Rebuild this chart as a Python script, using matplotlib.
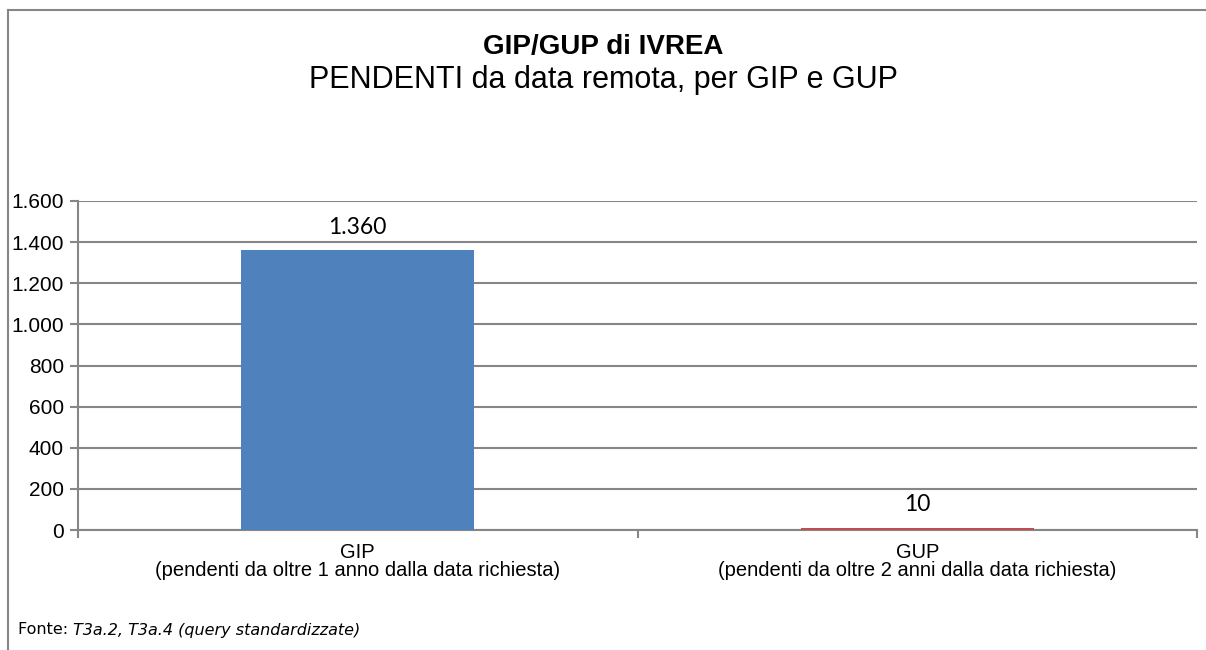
"""GIP/GUP di IVREA - pendenti da data remota."""

import matplotlib.pyplot as plt
from matplotlib.lines import Line2D

cat_names = ["GIP", "GUP"]
cat_notes = [
    "(pendenti da oltre 1 anno dalla data richiesta)",
    "(pendenti da oltre 2 anni dalla data richiesta)",
]
values = [1360, 10]
bar_colors = ["#4F81BD", "#C0504D"]
y_ticks = [0, 200, 400, 600, 800, 1000, 1200, 1400, 1600]

GRID = "#868686"
W, H = 1206, 650


def fmt_it(v):
    return f"{v:,.0f}".replace(",", ".")


plt.rcParams["font.family"] = ["Liberation Sans", "DejaVu Sans"]
fig = plt.figure(figsize=(W / 100, H / 100), dpi=100)

# outer frame (top and left edges only)
fig.add_artist(Line2D([8 / W, 1.0], [1 - 10 / H] * 2, color=GRID, lw=1.5,
                      transform=fig.transFigure))
fig.add_artist(Line2D([8 / W] * 2, [0, 1 - 10 / H], color=GRID, lw=1.5,
                      transform=fig.transFigure))

ax = fig.add_axes([78 / W, 1 - 530 / H, (1197 - 78) / W, (530 - 201) / H])
xs = list(range(len(values)))
bars = ax.bar(xs, values, width=0.416, color=bar_colors, zorder=3)
ax.set_xlim(-0.5, len(values) - 0.5)
ax.set_ylim(0, 1600)
ax.set_yticks(y_ticks)
ax.set_yticklabels([fmt_it(v) for v in y_ticks], fontsize=15)
ax.yaxis.grid(True, color=GRID, lw=1.5, zorder=0)

for spine in ["top", "right"]:
    ax.spines[spine].set_visible(False)
for spine in ["left", "bottom"]:
    ax.spines[spine].set_color(GRID)
    ax.spines[spine].set_linewidth(1.5)
ax.tick_params(axis="y", length=6, width=1.5, color=GRID, pad=4)

# category boundaries as ticks, labels placed under each bar
ax.set_xticks([-0.5, 0.5, 1.5])
ax.set_xticklabels([])
ax.tick_params(axis="x", length=6, width=1.5, color=GRID)
for x, name, note in zip(xs, cat_names, cat_notes):
    ax.annotate(name, (x, 0), xytext=(0, -22), textcoords="offset pixels",
                ha="center", va="center", fontsize=14.5)
    ax.annotate(note, (x, 0), xytext=(0, -40), textcoords="offset pixels",
                ha="center", va="center", fontsize=14.5)

for b, v in zip(bars, values):
    ax.annotate(fmt_it(v), (b.get_x() + b.get_width() / 2, v), xytext=(0, 23),
                textcoords="offset pixels", ha="center", va="center",
                fontsize=16.5, family=["Lato", "DejaVu Sans"])

fig.text(0.5, 1 - 47 / H, "GIP/GUP di IVREA", ha="center", va="center",
         fontsize=20, fontweight="bold")
fig.text(0.5, 1 - 80 / H, "PENDENTI da data remota, per GIP e GUP", ha="center",
         va="center", fontsize=22)

fy = 1 - 630 / H
t1 = fig.text(18 / W, fy, "Fonte: ", ha="left", va="center", fontsize=11.5,
              family="DejaVu Sans")
fig.canvas.draw()
x_end = t1.get_window_extent().x1 / W
fig.text(x_end, fy, "T3a.2, T3a.4 (query standardizzate)", ha="left",
         va="center", fontsize=11.5, family="DejaVu Sans", style="italic")

fig.savefig("out.png", dpi=100)
